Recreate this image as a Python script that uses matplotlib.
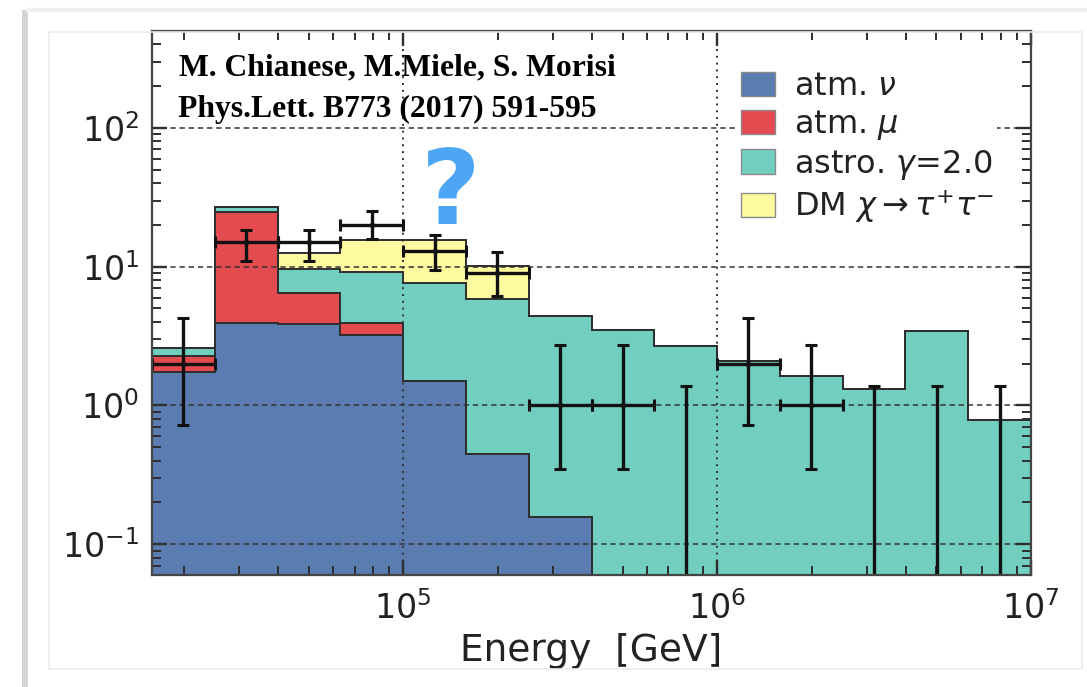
import numpy as np
import matplotlib
matplotlib.use("Agg")
import matplotlib.pyplot as plt
from matplotlib.patches import Patch, Rectangle
from matplotlib.lines import Line2D
from matplotlib.ticker import LogLocator, NullFormatter

# ---- binning: log10(E / GeV) edges ----
log_edges = [4.2, 4.4, 4.6, 4.8, 5.0, 5.2, 5.4, 5.6, 5.8, 6.0, 6.2, 6.4, 6.6, 6.8, 7.0]

# ---- expected events per bin, per component ----
atm_nu = [1.75, 3.95, 3.85, 3.20, 1.50, 0.45, 0.157, 0, 0, 0, 0, 0, 0, 0]
atm_mu = [0.53, 21.0, 2.65, 0.70, 0, 0, 0, 0, 0, 0, 0, 0, 0, 0]
astro = [0.32, 2.05, 3.10, 5.25, 6.10, 5.39, 4.25, 3.49, 2.68, 2.09, 1.63, 1.31, 3.43, 0.78]
dm_tautau = [0, 0, 2.90, 6.45, 8.00, 4.26, 0, 0, 0, 0, 0, 0, 0, 0]

# ---- observed events with 68% interval bounds ----
counts = [2, 15, 15, 20, 13, 9, 1, 1, 0, 2, 1, 0, 0, 0]
count_lo = [0.72, 11.0, 11.0, 15.8, 9.5, 6.2, 0.35, 0.35, 0, 0.72, 0.35, 0, 0, 0]
count_hi = [4.3, 18.4, 18.4, 25.2, 16.9, 12.8, 2.75, 2.75, 1.38, 4.3, 2.75, 1.38, 1.38, 1.38]

labels = [r"atm. $\nu$", r"atm. $\mu$", r"astro. $\gamma$=2.0",
          r"DM $\chi \rightarrow \tau^{+}\tau^{-}$"]
colors = ["#5a7cb1", "#e34b51", "#72cfc0", "#fdfaa0"]

plt.rcParams["font.family"] = ["DejaVu Sans"]
plt.rcParams["mathtext.fontset"] = "dejavusans"

W, H = 1087, 687
fig = plt.figure(figsize=(W / 100, H / 100), dpi=100)
fig.patch.set_facecolor("white")

# page decorations around the plot
fig.add_artist(Rectangle((22 / W, 0), 6 / W, 1 - 10 / H, transform=fig.transFigure,
                         facecolor="#d4d4d4", edgecolor="none"))
fig.add_artist(Line2D([28 / W, 1], [1 - 10 / H] * 2, transform=fig.transFigure,
                      color="#f0f0f0", lw=3))
fig.add_artist(Rectangle((49 / W, 1 - 669 / H), (1082 - 49) / W, (669 - 32) / H,
                         transform=fig.transFigure, facecolor="none",
                         edgecolor="#ebebeb", lw=1.2))

ax = fig.add_axes([152 / W, 1 - 575 / H, (1031 - 152) / W, (575 - 31) / H])
ax.set_xscale("log")
ax.set_yscale("log")

edges = 10.0 ** np.array(log_edges)
centers = 10.0 ** (0.5 * (np.array(log_edges[:-1]) + np.array(log_edges[1:])))
floor = 1e-3

comps = [np.array(atm_nu), np.array(atm_mu), np.array(astro), np.array(dm_tautau)]
base = np.zeros(len(centers))
for i, (c, col) in enumerate(zip(comps, colors)):
    top = base + c
    lo = np.maximum(base, floor)
    hi = np.maximum(top, floor)
    ax.stairs(hi, edges, baseline=lo, fill=True, facecolor=col,
              edgecolor="none", zorder=1 + 0.1 * i)
    ax.stairs(hi, edges, baseline=None, color="#2e2e2e", lw=1.4,
              zorder=1.5 + 0.1 * i)
    base = top

# observed events
counts_a = np.array(counts, dtype=float)
lo_a = np.array(count_lo)
hi_a = np.array(count_hi)
nz = counts_a > 0
xerr = [centers[nz] - edges[:-1][nz], edges[1:][nz] - centers[nz]]
yerr = [counts_a[nz] - lo_a[nz], hi_a[nz] - counts_a[nz]]
ax.errorbar(centers[nz], counts_a[nz], xerr=xerr, yerr=yerr, fmt="o", ms=3,
            color="#111111", ecolor="#111111", elinewidth=2.4, capsize=4,
            capthick=2.2, zorder=5)
z = ~nz
y_bot = 1e-2
ax.errorbar(centers[z], hi_a[z], yerr=[hi_a[z] - y_bot, np.zeros(z.sum())],
            fmt="none", ecolor="#111111", elinewidth=2.4, capsize=4,
            capthick=2.2, zorder=5)

ax.set_xlim(edges[0], edges[-1])
ax.set_ylim(0.06, 500)

for axis in (ax.xaxis, ax.yaxis):
    axis.set_major_locator(LogLocator(base=10, numticks=20))
    axis.set_minor_locator(LogLocator(base=10, subs=np.arange(2, 10), numticks=20))
    axis.set_minor_formatter(NullFormatter())

ax.set_axisbelow(False)
ax.grid(True, which="major", axis="y", color="#333333", lw=1.1,
        linestyle=(0, (3.5, 2.5)))
ax.grid(True, which="major", axis="x", color="#333333", lw=1.4,
        linestyle=(0, (1, 2.5)))
ax.grid(False, which="minor")

ax.tick_params(which="both", direction="in", top=True, right=True,
               color="#2e2e2e", labelsize=24, labelcolor="#222222")
ax.tick_params(which="major", length=11, width=1.7, pad=9)
ax.tick_params(which="minor", length=6.5, width=1.4)
ax.tick_params(axis="x", which="major", pad=12)
for s in ax.spines.values():
    s.set_color("#444444")
    s.set_linewidth(1.6)
    s.set_zorder(6)

ax.set_xlabel("Energy  [GeV]", fontsize=27, color="#222222", labelpad=5)

handles = [Patch(facecolor=c, edgecolor="#8a8a8a", lw=1.0) for c in colors]
leg = fig.legend(handles, labels, loc="upper left",
                 bbox_to_anchor=(738 / W, 1 - 68 / H),
                 fontsize=23, frameon=True, fancybox=False, framealpha=1,
                 borderpad=0.1, borderaxespad=0, handlelength=1.05,
                 handleheight=0.8, handletextpad=0.6, labelspacing=0.18)
leg.get_frame().set_edgecolor("none")
leg.get_frame().set_facecolor("white")
for t in leg.get_texts():
    t.set_color("#222222")

# citation and marker overlaid on the plot
fig.text(179 / W, 1 - 75 / H, "M. Chianese, M.Miele, S. Morisi",
         family="Liberation Serif", weight="bold", fontsize=22.8, color="black")
fig.text(178 / W, 1 - 117 / H, "Phys.Lett. B773 (2017) 591-595",
         family="Liberation Serif", weight="bold", fontsize=22.8, color="black")
fig.text(451 / W, 1 - 196 / H, "?", family="DejaVu Sans", weight="bold",
         fontsize=74, color="#4da6f5", ha="center", va="center", zorder=10)

fig.savefig("out.png", dpi=100, facecolor="white")
